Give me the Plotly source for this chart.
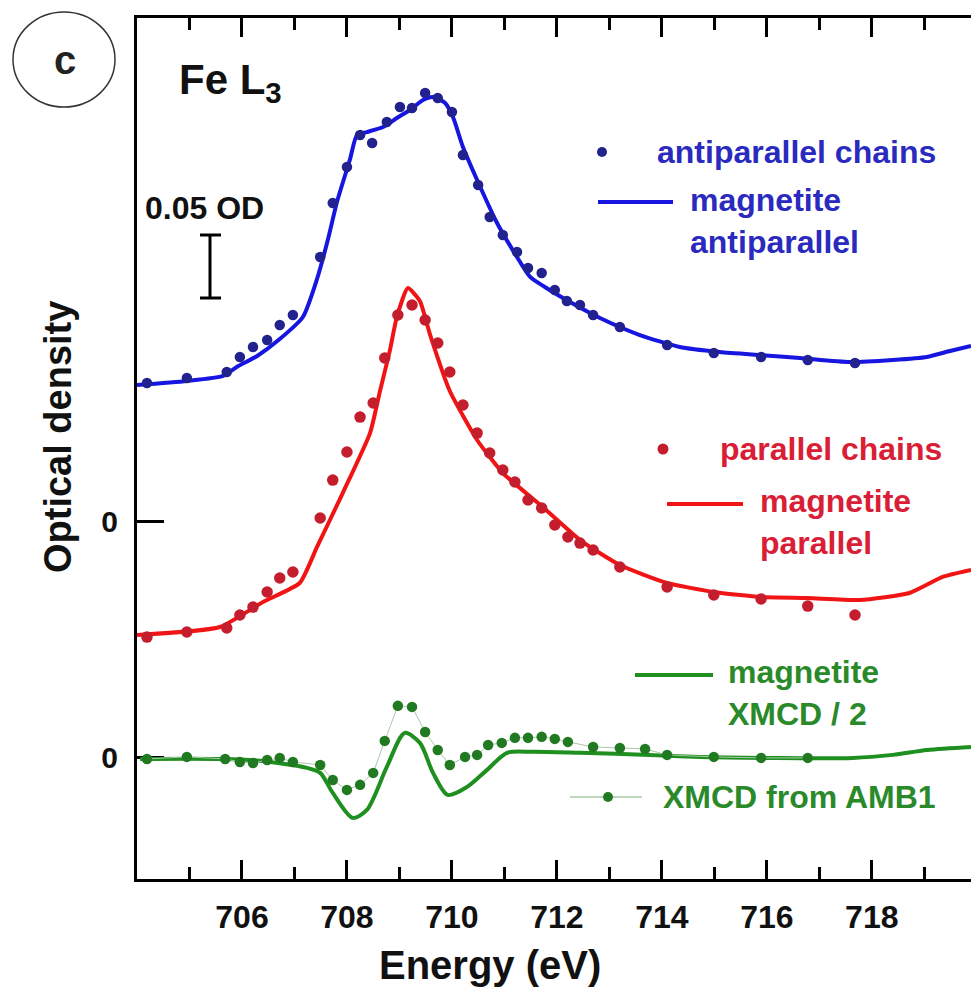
import plotly.graph_objects as go

# ---------------- data (energy in eV, optical density in OD) ----------------
# antiparallel chains (points, shown with vertical offset on the shared OD axis)
anti_E = [704.19, 704.95, 705.71, 705.96, 706.21, 706.48, 706.72, 706.97, 707.49, 707.73,
          708.00, 708.25, 708.48, 708.76, 709.01, 709.24, 709.49, 709.73, 710.00, 710.21,
          710.50, 710.72, 710.97, 711.24, 711.45, 711.71, 711.96, 712.19, 712.44, 712.69,
          713.20, 714.10, 714.99, 715.89, 716.78, 717.68]
anti_OD = [0.1095, 0.1135, 0.1183, 0.1302, 0.1381, 0.1437, 0.1556, 0.1635, 0.2095, 0.2524,
           0.2810, 0.3063, 0.3000, 0.3167, 0.3286, 0.3278, 0.3397, 0.3357, 0.3246, 0.2905,
           0.2667, 0.2413, 0.2270, 0.2135, 0.2008, 0.1968, 0.1833, 0.1746, 0.1714, 0.1635,
           0.1540, 0.1397, 0.1333, 0.1302, 0.1278, 0.1254]

# magnetite antiparallel (line)
magA_E = [704.00, 704.95, 705.64, 705.90, 706.29, 706.72, 707.16, 707.43, 707.64, 707.81,
          708.06, 708.19, 708.38, 708.69, 708.95, 709.20, 709.45, 709.64, 709.87, 710.02,
          710.21, 710.48, 710.86, 711.24, 711.49, 711.77, 712.25, 712.82, 713.58, 714.34,
          715.10, 715.87, 716.63, 717.58, 718.40, 719.05, 719.49, 719.89]
magA_OD = [0.1079, 0.1111, 0.1151, 0.1222, 0.1310, 0.1444, 0.1619, 0.1921, 0.2238, 0.2532,
           0.2873, 0.3063, 0.3087, 0.3127, 0.3198, 0.3262, 0.3341, 0.3365, 0.3317, 0.3206,
           0.2968, 0.2706, 0.2365, 0.2095, 0.1937, 0.1857, 0.1738, 0.1611, 0.1476, 0.1381,
           0.1341, 0.1317, 0.1294, 0.1262, 0.1278, 0.1302, 0.1349, 0.1389]

# parallel chains (points)
par_E = [704.19, 704.95, 705.71, 705.96, 706.21, 706.48, 706.72, 706.97, 707.49, 707.73,
         708.00, 708.25, 708.50, 708.72, 708.97, 709.24, 709.49, 709.73, 709.96, 710.21,
         710.48, 710.72, 710.97, 711.20, 711.45, 711.71, 711.96, 712.21, 712.44, 712.69,
         713.20, 714.10, 714.99, 715.89, 716.78, 717.68]
par_OD = [-0.0921, -0.0881, -0.0849, -0.0746, -0.0683, -0.0563, -0.0452, -0.0405, 0.0024, 0.0325,
          0.0548, 0.0825, 0.0937, 0.1294, 0.1635, 0.1714, 0.1595, 0.1413, 0.1183, 0.0921,
          0.0698, 0.0540, 0.0405, 0.0310, 0.0167, 0.0103, -0.0032, -0.0127, -0.0175, -0.0230,
          -0.0365, -0.0524, -0.0587, -0.0619, -0.0675, -0.0746]

# magnetite parallel (line)
magP_E = [704.00, 705.58, 706.40, 707.10, 707.43, 707.92, 708.44, 708.63, 708.82, 708.95,
          709.16, 709.39, 709.58, 709.96, 710.48, 710.97, 711.73, 712.44, 713.20, 714.10,
          714.99, 715.89, 716.78, 717.77, 718.72, 719.35, 719.89]
magP_OD = [-0.0905, -0.0841, -0.0643, -0.0492, -0.0206, 0.0222, 0.0698, 0.1032, 0.1357, 0.1619,
           0.1849, 0.1746, 0.1484, 0.1032, 0.0643, 0.0381, 0.0111, -0.0151, -0.0349, -0.0492,
           -0.0563, -0.0603, -0.0611, -0.0627, -0.0571, -0.0444, -0.0389]

# XMCD from AMB1 (points + thin line), relative to its own zero
amb_E = [704.19, 704.95, 705.68, 705.96, 706.21, 706.48, 706.72, 706.97, 707.49, 707.73,
         708.00, 708.25, 708.50, 708.72, 708.97, 709.24, 709.49, 709.73, 709.96, 710.25,
         710.48, 710.69, 710.95, 711.20, 711.45, 711.71, 711.96, 712.21, 712.69, 713.20,
         713.68, 714.10, 714.99, 715.89, 716.78]
amb_XMCD = [-0.0008, 0.0008, -0.0008, -0.0032, -0.0040, -0.0016, 0.0000, -0.0032, -0.0056, -0.0175,
            -0.0254, -0.0214, -0.0119, 0.0135, 0.0413, 0.0405, 0.0206, 0.0063, -0.0056, 0.0008,
            0.0024, 0.0103, 0.0119, 0.0159, 0.0159, 0.0167, 0.0151, 0.0127, 0.0087, 0.0079,
            0.0071, 0.0024, 0.0008, 0.0000, 0.0000]

# magnetite XMCD / 2 (line), relative to its own zero
magX_E = [704.06, 706.15, 707.24, 707.49, 707.73, 708.11, 708.38, 708.76, 709.10, 709.39,
          709.64, 709.92, 710.29, 710.67, 711.05, 711.54, 712.44, 713.77, 714.72, 717.64,
          718.40, 719.05, 719.89]
magX_XMCD = [-0.0008, -0.0016, -0.0079, -0.0119, -0.0278, -0.0476, -0.0413, -0.0071, 0.0198, 0.0119,
             -0.0119, -0.0294, -0.0230, -0.0095, 0.0040, 0.0048, 0.0040, 0.0024, 0.0008, 0.0000,
             0.0024, 0.0063, 0.0087]

XMCD_OFFSET = -0.188          # where the XMCD zero sits on the OD axis
x_ticks = [706, 708, 710, 712, 714, 716, 718]
x_tick_labels = ["706", "708", "710", "712", "714", "716", "718"]
y_ticks = [XMCD_OFFSET, 0.0]
y_tick_labels = ["0", "0"]
SCALE_BAR_OD = 0.05

# ---------------- styles ----------------
BLUE_LINE, BLUE_DOT, BLUE_TXT = "#1616e0", "#22228f", "#2a2abf"
RED_LINE, RED_DOT, RED_TXT = "#f01414", "#c41e2e", "#d91e36"
GRN_LINE, GRN_DOT, GRN_TXT, GRN_THIN = "#1f8f1f", "#217a21", "#2a8a2a", "#a9c9a9"
FONT = "Liberation Sans"

W, H = 971, 994
# plot area in page pixels
PL, PR, PT, PB = 137, 971, 18, 879
L, T, R, B = PL, PT, W - PR, H - PB
XR = [704.0, 719.89]
YR = [-0.2841, 0.3992]


def ex(px):  # page pixel -> energy
    return XR[0] + (px - PL) / (PR - PL) * (XR[1] - XR[0])


def vy(py):  # page pixel -> OD
    return YR[1] - (py - PT) / (PB - PT) * (YR[1] - YR[0])


def xp(px):  # page pixel -> paper
    return (px - PL) / (PR - PL)


def yp(py):
    return (PB - py) / (PB - PT)


amb_y = [XMCD_OFFSET + v for v in amb_XMCD]
magX_y = [XMCD_OFFSET + v for v in magX_XMCD]

fig = go.Figure()
fig.add_trace(go.Scatter(x=magA_E, y=magA_OD, mode="lines",
                         line=dict(color=BLUE_LINE, width=4, shape="spline", smoothing=0.6)))
fig.add_trace(go.Scatter(x=anti_E, y=anti_OD, mode="markers",
                         marker=dict(color=BLUE_DOT, size=10.5)))
fig.add_trace(go.Scatter(x=magP_E, y=magP_OD, mode="lines",
                         line=dict(color=RED_LINE, width=4, shape="spline", smoothing=0.5)))
fig.add_trace(go.Scatter(x=par_E, y=par_OD, mode="markers",
                         marker=dict(color=RED_DOT, size=11.5)))
fig.add_trace(go.Scatter(x=magX_E, y=magX_y, mode="lines",
                         line=dict(color=GRN_LINE, width=4, shape="spline", smoothing=0.8)))
fig.add_trace(go.Scatter(x=amb_E, y=amb_y, mode="lines+markers",
                         line=dict(color=GRN_THIN, width=1),
                         marker=dict(color=GRN_DOT, size=10.5)))

shapes = []
# scale bar (0.05 OD)
bx = ex(210)
b0 = vy(298)
shapes.append(dict(type="line", xref="x", yref="y", x0=bx, x1=bx, y0=b0, y1=b0 + SCALE_BAR_OD,
                   line=dict(color="black", width=3)))
for yy in (b0, b0 + SCALE_BAR_OD):
    shapes.append(dict(type="line", xref="x", yref="y", x0=ex(200), x1=ex(221), y0=yy, y1=yy,
                       line=dict(color="black", width=3)))
# panel label circle (outside plot area -> paper coords)
shapes.append(dict(type="circle", xref="paper", yref="paper", x0=xp(13), x1=xp(115),
                   y0=yp(107), y1=yp(12), line=dict(color="#333333", width=1.5)))
# legend keys
shapes.append(dict(type="line", xref="x", yref="y", x0=ex(598), x1=ex(673), y0=vy(202), y1=vy(202),
                   line=dict(color=BLUE_LINE, width=4)))
shapes.append(dict(type="line", xref="x", yref="y", x0=ex(667), x1=ex(743), y0=vy(504), y1=vy(504),
                   line=dict(color=RED_LINE, width=4)))
shapes.append(dict(type="line", xref="x", yref="y", x0=ex(635), x1=ex(713), y0=vy(675), y1=vy(675),
                   line=dict(color=GRN_LINE, width=4)))
shapes.append(dict(type="line", xref="x", yref="y", x0=ex(570), x1=ex(642), y0=vy(797), y1=vy(797),
                   line=dict(color=GRN_THIN, width=1.5)))


def dot(cx, cy, r, color):
    return dict(type="circle", xref="x", yref="y", xsizemode="pixel", ysizemode="pixel",
                xanchor=ex(cx), yanchor=vy(cy), x0=-r, x1=r, y0=-r, y1=r,
                fillcolor=color, line=dict(color=color, width=0))


shapes.append(dot(602, 152, 5, BLUE_DOT))
shapes.append(dot(663, 449, 5.5, RED_DOT))
shapes.append(dot(608, 797, 5, GRN_DOT))

ann = []


def text(px, py, s, color, size, xanchor="left", weight="bold", **kw):
    ann.append(dict(x=xp(px), y=yp(py), xref="paper", yref="paper", text=s, showarrow=False,
                    xanchor=xanchor, yanchor="middle", align="left",
                    font=dict(family=FONT, size=size, color=color, weight=weight), **kw))


text(65, 60, "c", "#222222", 40, xanchor="center", weight="bold")
text(177, 82, "Fe L<sub>3</sub>", "#111111", 42)
text(143, 208, "0.05 OD", "#111111", 32)
text(655, 152, "antiparallel chains", BLUE_TXT, 32)
text(688, 221, "magnetite<br>antiparallel", BLUE_TXT, 32)
text(718, 449, "parallel chains", RED_TXT, 32)
text(758, 522, "magnetite<br>parallel", RED_TXT, 32)
text(726, 693, "magnetite<br>XMCD / 2", GRN_TXT, 32)
text(661, 797, "XMCD from AMB1", GRN_TXT, 32)
# axis titles
text(490, 965, "Energy (eV)", "#111111", 40, xanchor="center")
text(58, 437, "Optical density", "#111111", 38, xanchor="center", textangle=-90)

fig.update_layout(
    width=W, height=H, margin=dict(l=L, r=R, t=T, b=B),
    paper_bgcolor="white", plot_bgcolor="white", showlegend=False,
    shapes=shapes, annotations=ann,
    xaxis=dict(range=XR, showgrid=False, zeroline=False, showline=True, linecolor="black",
               linewidth=3, mirror="ticks", ticks="inside", ticklen=19, tickwidth=3,
               tickcolor="black", tickvals=x_ticks, ticktext=x_tick_labels,
               tickfont=dict(family=FONT, size=32, color="#111111", weight="bold"),
               ticklabelstandoff=8,
               minor=dict(ticks="inside", ticklen=12, tickwidth=3, tickcolor="black",
                          dtick=1, tick0=705, showgrid=False)),
    yaxis=dict(range=YR, showgrid=False, zeroline=False, showline=True, linecolor="black",
               linewidth=3, ticks="inside", ticklen=27, tickwidth=3, tickcolor="black",
               tickvals=y_ticks, ticktext=y_tick_labels, layer="below traces",
               tickfont=dict(family=FONT, size=30, color="#111111", weight="bold"),
               ticklabelstandoff=10),
)

fig.write_html("out.html", config={"displayModeBar": False},
               post_script="document.body.style.margin='0';document.body.style.overflow='hidden';")
